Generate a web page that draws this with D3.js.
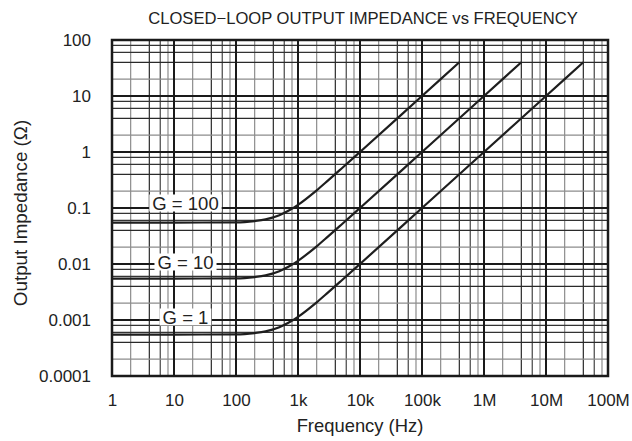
<!DOCTYPE html>
<html><head><meta charset="utf-8">
<script src="https://cdn.jsdelivr.net/npm/d3@7"></script>
<style>body{margin:0;background:#fff}svg{display:block}text{font-family:"Liberation Sans",Arial,sans-serif;fill:#222}</style>
</head><body>
<svg id="c" width="632" height="441"></svg>
<script>
// Data
const xTickValues = [1, 10, 100, 1e3, 1e4, 1e5, 1e6, 1e7, 1e8];
const xTickLabels = ["1", "10", "100", "1k", "10k", "100k", "1M", "10M", "100M"];
const yTickValues = [1e-4, 1e-3, 1e-2, 0.1, 1, 10, 100];
const yTickLabels = ["0.0001", "0.001", "0.01", "0.1", "1", "10", "100"];

const freqG100 = [1, 10, 100, 200, 300, 500, 700, 1000, 2000, 3000, 5000, 10000, 100000, 400000];
const zG100    = [0.055, 0.055, 0.0553, 0.0585, 0.0626, 0.0743, 0.089, 0.114, 0.207, 0.305, 0.503, 1.0, 10, 40];
const freqG10  = [1, 10, 100, 200, 300, 500, 700, 1000, 2000, 3000, 5000, 10000, 100000, 1000000, 4000000];
const zG10     = [0.0055, 0.0055, 0.00553, 0.00585, 0.00626, 0.00743, 0.0089, 0.0114, 0.0207, 0.0305, 0.0503, 0.1, 1, 10, 40];
const freqG1   = [1, 10, 100, 200, 300, 500, 700, 1000, 2000, 3000, 5000, 10000, 100000, 1000000, 10000000, 40000000];
const zG1      = [0.00055, 0.00055, 0.000553, 0.000585, 0.000626, 0.000743, 0.00089, 0.00114, 0.00207, 0.00305, 0.00503, 0.01, 0.1, 1, 10, 40];

const seriesNames = ["G = 100", "G = 10", "G = 1"];
const labelAt = [0.1, 0.01, 0.001];   // decade line each label sits on

const svg = d3.select("#c");
const m = {l:112, r:608, t:40, b:376};
const x = d3.scaleLog().domain([1, 1e8]).range([m.l, m.r]);
const y = d3.scaleLog().domain([1e-4, 100]).range([m.b, m.t]);

const g = svg.append("g");
// minor grid
const minorMults = [2, 4, 6, 8];
const vCol = {2:"#8c8c8c", 4:"#2a2a2a", 6:"#444", 8:"#8c8c8c"};
const hCol = {2:"#8c8c8c", 4:"#2a2a2a", 6:"#333", 8:"#333"};
for (let d = 0; d < 8; d++) for (const k of minorMults) {
  const v = k * Math.pow(10, d);
  g.append("line").attr("x1", x(v)).attr("x2", x(v)).attr("y1", m.t).attr("y2", m.b)
   .attr("stroke", vCol[k]).attr("stroke-width", 1.2);
}
for (let d = -4; d < 2; d++) for (const k of minorMults) {
  const v = k * Math.pow(10, d);
  g.append("line").attr("y1", y(v)).attr("y2", y(v)).attr("x1", m.l).attr("x2", m.r)
   .attr("stroke", hCol[k]).attr("stroke-width", 1.2);
}
// major grid
xTickValues.forEach(v => g.append("line").attr("x1", x(v)).attr("x2", x(v)).attr("y1", m.t).attr("y2", m.b)
  .attr("stroke", "#1a1a1a").attr("stroke-width", 2));
yTickValues.forEach(v => g.append("line").attr("y1", y(v)).attr("y2", y(v)).attr("x1", m.l).attr("x2", m.r)
  .attr("stroke", "#1a1a1a").attr("stroke-width", 2));
// border
g.append("rect").attr("x", m.l).attr("y", m.t).attr("width", m.r - m.l).attr("height", m.b - m.t)
  .attr("fill", "none").attr("stroke", "#1a1a1a").attr("stroke-width", 2.5);

// curves
const line = d3.line().x(d => x(d[0])).y(d => y(d[1])).curve(d3.curveMonotoneX);
[[freqG100, zG100], [freqG10, zG10], [freqG1, zG1]].forEach(([f, z]) => {
  svg.append("path").datum(f.map((v, i) => [v, z[i]])).attr("d", line)
    .attr("fill", "none").attr("stroke", "#1e1e1e").attr("stroke-width", 2.2);
});

// labels with white boxes
const labelDy = [-5, -2, -3];
const lg = svg.append("g");
seriesNames.forEach((name, i) => {
  const cx = 185.5, cy = y(labelAt[i]) + labelDy[i];
  const t = lg.append("text").attr("x", cx).attr("y", cy).attr("text-anchor", "middle")
    .attr("dominant-baseline", "central").attr("font-size", 18.5).text(name);
  const bb = t.node().getBBox();
  lg.insert("rect", "text").attr("x", bb.x - 3).attr("y", bb.y + 2).attr("width", bb.width + 6).attr("height", bb.height - 4)
    .attr("fill", "#fff");
});
lg.selectAll("text").raise();

// axes
const xAxis = d3.axisBottom(x).tickValues(xTickValues).tickFormat((d, i) => xTickLabels[i]).tickSize(0).tickPadding(18);
const ax = svg.append("g").attr("transform", `translate(0,${m.b})`).call(xAxis);
ax.select(".domain").remove();
ax.selectAll("text").attr("font-size", 17).attr("fill", "#222");
const yAxis = d3.axisLeft(y).tickValues(yTickValues).tickFormat((d, i) => yTickLabels[i]).tickSize(0).tickPadding(21);
const ay = svg.append("g").attr("transform", `translate(${m.l},0)`).call(yAxis);
ay.select(".domain").remove();
ay.selectAll("text").attr("font-size", 17).attr("fill", "#222");
svg.selectAll(".tick text").attr("font-family", '"Liberation Sans",Arial,sans-serif');

// titles
svg.append("text").attr("x", 363).attr("y", 24).attr("text-anchor", "middle").attr("font-size", 16.6)
  .text("CLOSED\u2212LOOP OUTPUT IMPEDANCE vs FREQUENCY");
svg.append("text").attr("x", 360).attr("y", 432).attr("text-anchor", "middle").attr("font-size", 18.4)
  .text("Frequency (Hz)");
svg.append("text").attr("transform", "translate(27,213) rotate(-90)").attr("text-anchor", "middle").attr("font-size", 18.8)
  .text("Output Impedance (\u03A9)");
</script>
</body></html>
